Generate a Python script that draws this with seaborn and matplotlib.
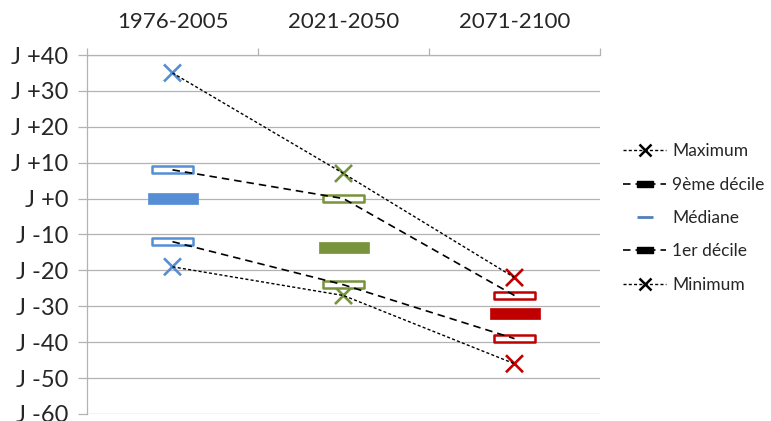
import matplotlib
matplotlib.use("Agg")
import matplotlib.pyplot as plt
import seaborn as sns
from matplotlib.path import Path
from matplotlib.lines import Line2D

# values (days relative to J)
periods = ["1976-2005", "2021-2050", "2071-2100"]
maximum = [35, 7, -22]
decile9 = [8, 0, -27]
median = [0, -13.5, -32]
decile1 = [-12, -24, -39]
minimum = [-19, -27, -46]
period_colors = ["#558ED5", "#77933C", "#C00000"]

yticks = [40, 30, 20, 10, 0, -10, -20, -30, -40, -50, -60]
ytick_labels = ["J +40", "J +30", "J +20", "J +10", "J +0", "J -10",
                "J -20", "J -30", "J -40", "J -50", "J -60"]

sns.set_style("white")
plt.rcParams["font.family"] = ["Lato", "DejaVu Sans"]

pos = [i + 0.5 for i in range(len(periods))]
grid_col = "#B3B3B3"

fig = plt.figure(figsize=(7.71, 4.21), dpi=100)
ax = fig.add_axes([87 / 771, 1 - 414 / 421, (600 - 87) / 771, (414 - 55) / 421])

# marker shapes
decile_box = Path([(-20, -3.5), (20, -3.5), (20, 3.5), (-20, 3.5), (-20, -3.5)],
                  [Path.MOVETO, Path.LINETO, Path.LINETO, Path.LINETO, Path.CLOSEPOLY])
median_box = Path([(-25, -5.5), (25, -5.5), (25, 5.5), (-25, 5.5), (-25, -5.5)],
                  [Path.MOVETO, Path.LINETO, Path.LINETO, Path.LINETO, Path.CLOSEPOLY])

# markers, coloured by period
sns.scatterplot(x=pos, y=maximum, hue=periods, palette=period_colors, marker="x",
                s=150, linewidth=1.9, legend=False, ax=ax, zorder=3)
sns.scatterplot(x=pos, y=minimum, hue=periods, palette=period_colors, marker="x",
                s=150, linewidth=1.9, legend=False, ax=ax, zorder=3)
for vals in (decile9, decile1):
    sns.scatterplot(x=pos, y=vals, marker=decile_box, s=29 ** 2, color="white",
                    edgecolor=period_colors, linewidth=1.8, legend=False, ax=ax, zorder=3)
sns.scatterplot(x=pos, y=median, marker=median_box, s=36 ** 2, color=period_colors,
                edgecolor=period_colors, linewidth=0.5, legend=False, ax=ax, zorder=3)

# black connecting lines
fine = (0, (2.2, 1.6))
coarse = (0, (4.5, 3))
sns.lineplot(x=pos, y=maximum, color="black", linestyle=fine, linewidth=1.0, ax=ax, zorder=4)
sns.lineplot(x=pos, y=minimum, color="black", linestyle=fine, linewidth=1.0, ax=ax, zorder=4)
sns.lineplot(x=pos, y=decile9, color="black", linestyle=coarse, linewidth=1.2, ax=ax, zorder=4)
sns.lineplot(x=pos, y=decile1, color="black", linestyle=coarse, linewidth=1.2, ax=ax, zorder=4)

ax.set_xlim(0, 3)
ax.set_ylim(-60, 40)
ax.set_yticks(yticks)
ax.set_yticklabels(ytick_labels)
ax.yaxis.grid(True, color=grid_col, linewidth=0.9)
ax.set_axisbelow(True)

# category axis on top
ax.xaxis.tick_top()
ax.set_xticks([0, 1, 2, 3])
ax.set_xticklabels([])
ax.set_xticks(pos, minor=True)
ax.set_xticklabels(periods, minor=True)
ax.tick_params(axis="x", which="major", direction="out", length=5, width=0.9,
               color=grid_col, top=True, bottom=False)
ax.tick_params(axis="x", which="minor", length=0, top=True, bottom=False,
               labeltop=True, labelbottom=False, pad=16.5, labelsize=16)
ax.tick_params(axis="y", direction="out", length=6.5, width=0.9, color=grid_col,
               pad=7, labelsize=17, left=True)

for side in ["right", "bottom"]:
    ax.spines[side].set_visible(False)
for side in ["left", "top"]:
    ax.spines[side].set_color(grid_col)
    ax.spines[side].set_linewidth(0.9)

# legend
legend_box = Path([(-7, -2.5), (7, -2.5), (7, 2.5), (-7, 2.5), (-7, -2.5)],
                  [Path.MOVETO, Path.LINETO, Path.LINETO, Path.LINETO, Path.CLOSEPOLY])
handles = [
    Line2D([], [], color="black", linestyle=fine, linewidth=1.0, marker="x",
           markersize=8, markeredgewidth=1.8),
    Line2D([], [], color="black", linestyle=coarse, linewidth=1.2, marker=legend_box,
           markersize=11),
    Line2D([], [], color="#4F81BD", linestyle="none", marker="_", markersize=11,
           markeredgewidth=2),
    Line2D([], [], color="black", linestyle=coarse, linewidth=1.2, marker=legend_box,
           markersize=11),
    Line2D([], [], color="black", linestyle=fine, linewidth=1.0, marker="x",
           markersize=8, markeredgewidth=1.8),
]
labels = ["Maximum", "9ème décile", "Médiane", "1er décile", "Minimum"]
fig.legend(handles, labels, loc="center left", bbox_to_anchor=(623 / 771, 1 - 218 / 421),
           frameon=False, fontsize=12.5, handlelength=2.5, handletextpad=0.35,
           labelspacing=1.0, borderpad=0, borderaxespad=0)

fig.savefig("out.png", dpi=100)
